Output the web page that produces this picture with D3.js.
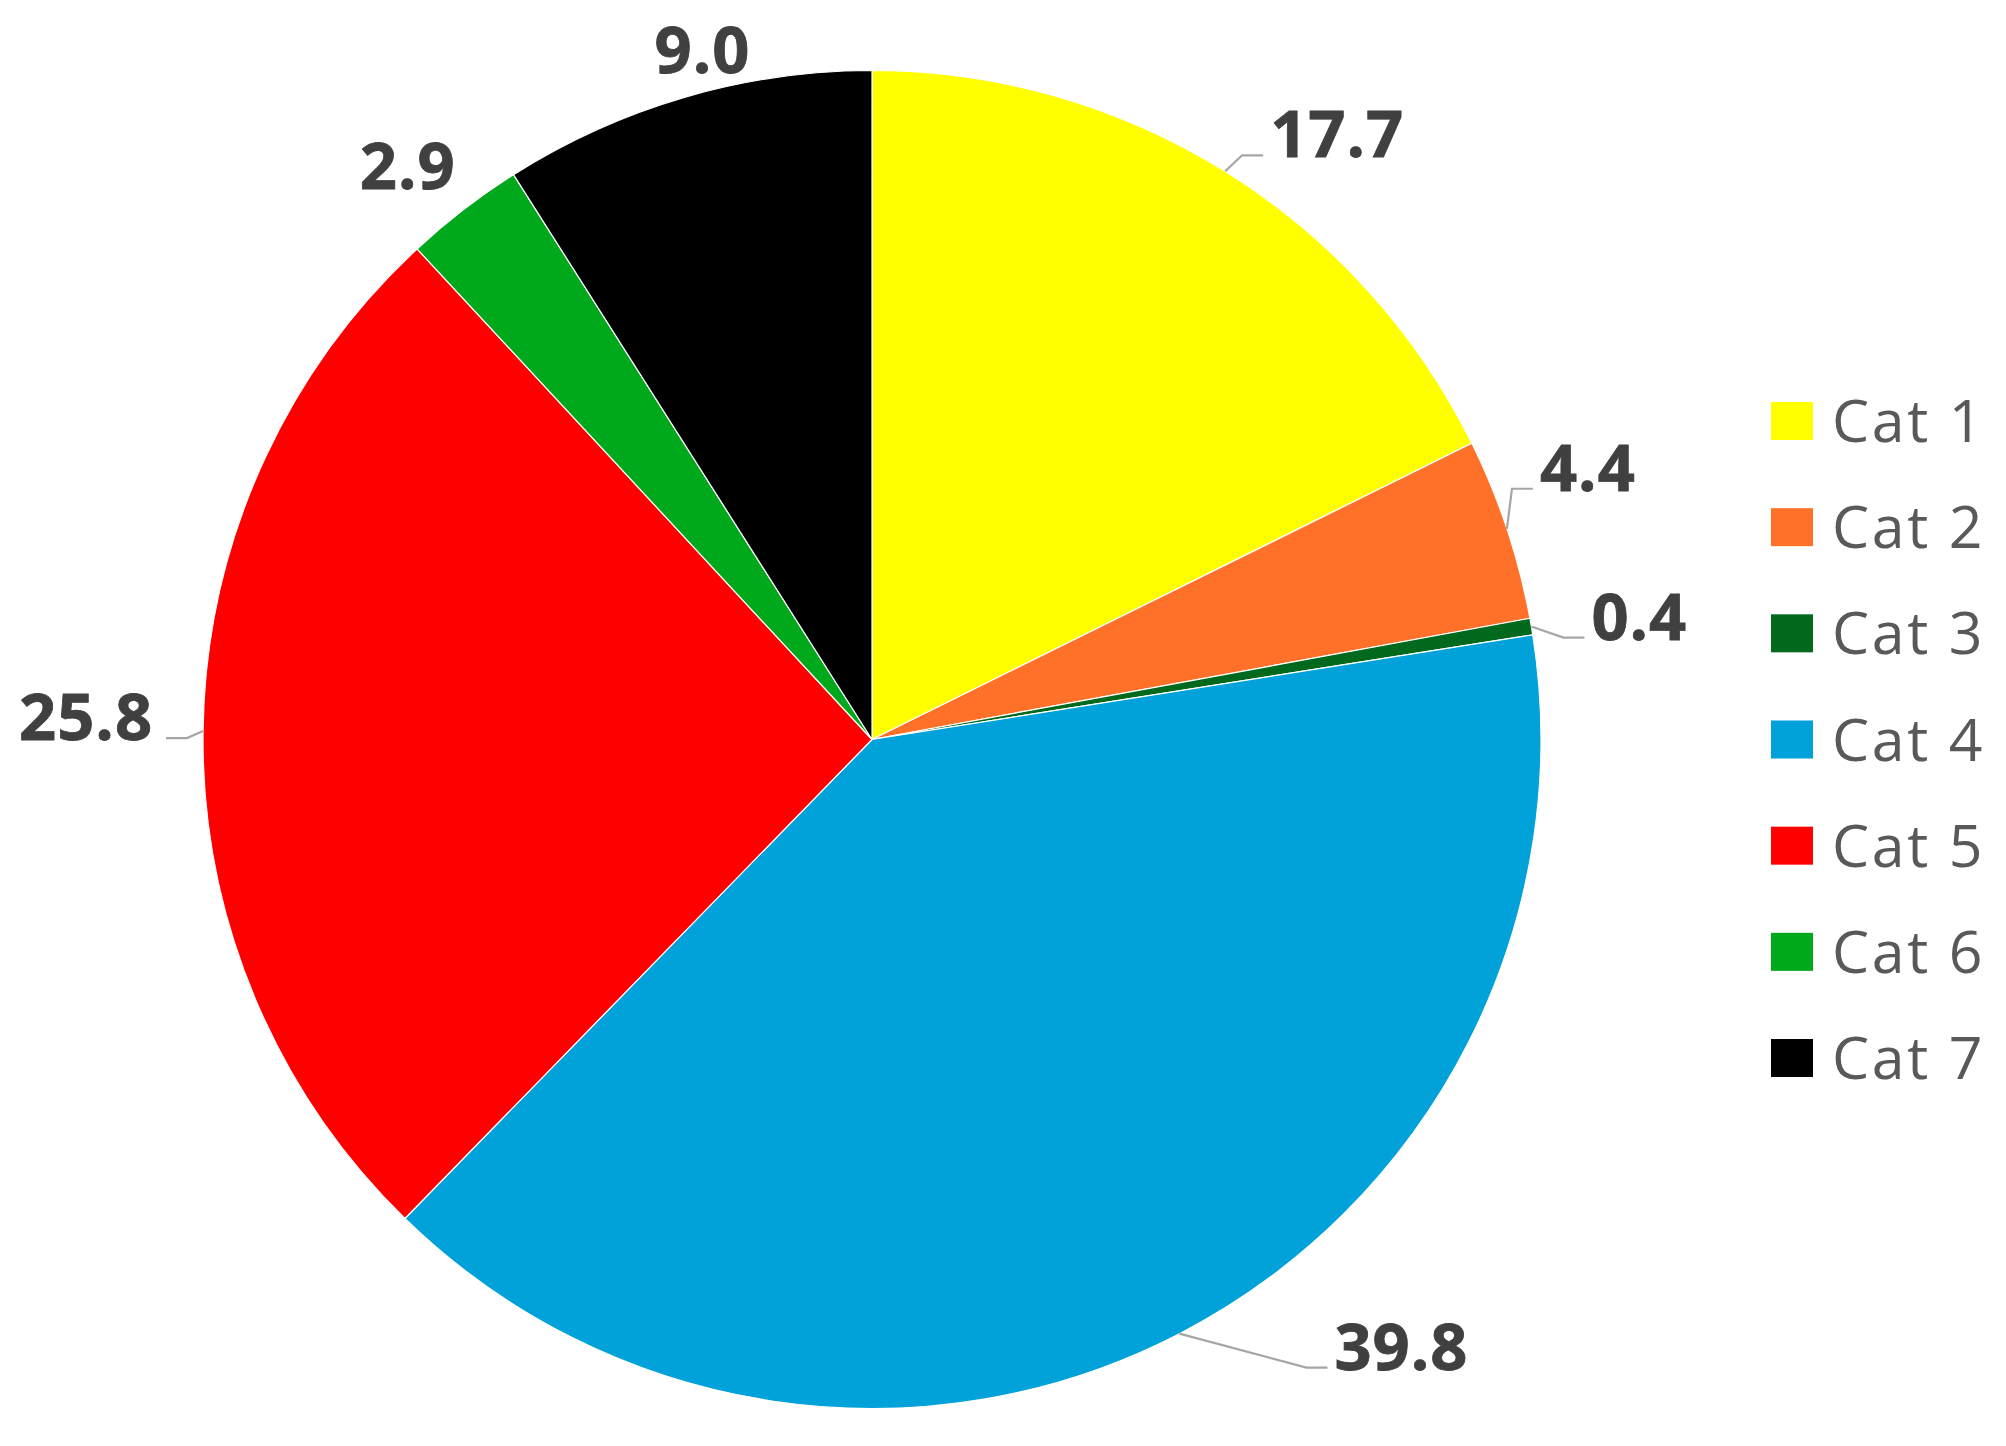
<!DOCTYPE html>
<html>
<head>
<meta charset="utf-8">
<script src="https://cdn.jsdelivr.net/npm/d3@7/dist/d3.min.js"></script>
<style>
  html, body { margin: 0; padding: 0; background: #ffffff; }
  svg { display: block; }
</style>
</head>
<body>
<svg id="chart" width="2006" height="1446"></svg>
<script>
// ---- data ----
const categories = ["Cat 1", "Cat 2", "Cat 3", "Cat 4", "Cat 5", "Cat 6", "Cat 7"];
const values = [17.7, 4.4, 0.4, 39.8, 25.8, 2.9, 9.0];
const valueLabels = ["17.7", "4.4", "0.4", "39.8", "25.8", "2.9", "9.0"];
const colors = ["#FFFF00", "#FF7128", "#00691E", "#00A2D9", "#FF0000", "#00A81B", "#000000"];

// ---- layout (label placement, relative to slice edge point) ----
const labelLayout = [
  { leader: true, ex: 17, ey: -16, side: 1 },
  { leader: true, ex: 5, ey: -40, side: 1 },
  { leader: true, ex: 32, ey: 11, side: 1 },
  { leader: true, ex: 127, ey: 34, side: 1 },
  { leader: true, ex: -16, ey: 7, side: -1 },
  { leader: false, rOff: 70, da: -1.3, dyBase: 24 },
  { leader: false, rOff: 42, da: 2.4, dyBase: 24 }
];

const svg = d3.select("#chart");
const cx = 872, cy = 739.5, R = 669;
const g = svg.append("g").attr("transform", `translate(${cx},${cy})`);

const pie = d3.pie().sort(null).value(d => d.value).startAngle(0).endAngle(2 * Math.PI);
const data = categories.map((c, i) => ({ cat: c, value: values[i], label: valueLabels[i], color: colors[i], i }));
const arcs = pie(data);
const arc = d3.arc().innerRadius(0).outerRadius(R);

g.selectAll("path.slice")
  .data(arcs)
  .enter().append("path")
  .attr("class", "slice")
  .attr("d", arc)
  .attr("fill", d => d.data.color)
  .attr("stroke", "#ffffff")
  .attr("stroke-width", 1.2)
  .attr("stroke-linejoin", "round");

const labelFont = "'Open Sans', 'DejaVu Sans', sans-serif";
const labelColor = "#404040";
const lineColor = "#A6A6A6";

function addLabel(x, y, anchor, txt) {
  return g.append("text")
    .attr("x", x)
    .attr("y", y)
    .attr("text-anchor", anchor)
    .attr("font-family", labelFont)
    .attr("font-weight", 700)
    .attr("font-size", 65)
    .attr("letter-spacing", "1px")
    .attr("fill", labelColor)
    .attr("stroke", labelColor)
    .attr("stroke-width", 0.8)
    .text(txt);
}

arcs.forEach((a, i) => {
  const mid = (a.startAngle + a.endAngle) / 2;
  const ex = Math.sin(mid) * R, ey = -Math.cos(mid) * R;
  const L = labelLayout[i];
  if (L.leader) {
    const bx = ex + L.ex, by = ey + L.ey;
    const hx = bx + L.side * 21;
    g.append("path")
      .attr("d", `M${ex},${ey}L${bx},${by}L${hx},${by}`)
      .attr("fill", "none")
      .attr("stroke", lineColor)
      .attr("stroke-width", 2.2);
    addLabel(hx + L.side * (L.side > 0 ? 7 : 13), by + 2, L.side > 0 ? "start" : "end", a.data.label);
  } else {
    const ang = mid + L.da * Math.PI / 180;
    const rr = R + L.rOff;
    const tx = Math.sin(ang) * rr, ty = -Math.cos(ang) * rr;
    addLabel(tx, ty + L.dyBase, "middle", a.data.label);
  }
});

// ---- legend ----
const legendScale = d3.scalePoint().domain(categories).range([421, 1058]);
const legend = svg.append("g");
const items = legend.selectAll("g.item").data(data).enter().append("g")
  .attr("class", "item")
  .attr("transform", d => `translate(1771,${legendScale(d.cat)})`);
items.append("rect")
  .attr("x", 0).attr("y", -19)
  .attr("width", 42).attr("height", 38)
  .attr("fill", d => d.color);
items.append("text")
  .attr("x", 61).attr("y", 21)
  .attr("font-family", "'Open Sans', 'DejaVu Sans', sans-serif")
  .attr("font-size", 59)
  .attr("letter-spacing", "2.6px")
  .attr("fill", "#595959")
  .text(d => d.cat);
</script>
</body>
</html>
